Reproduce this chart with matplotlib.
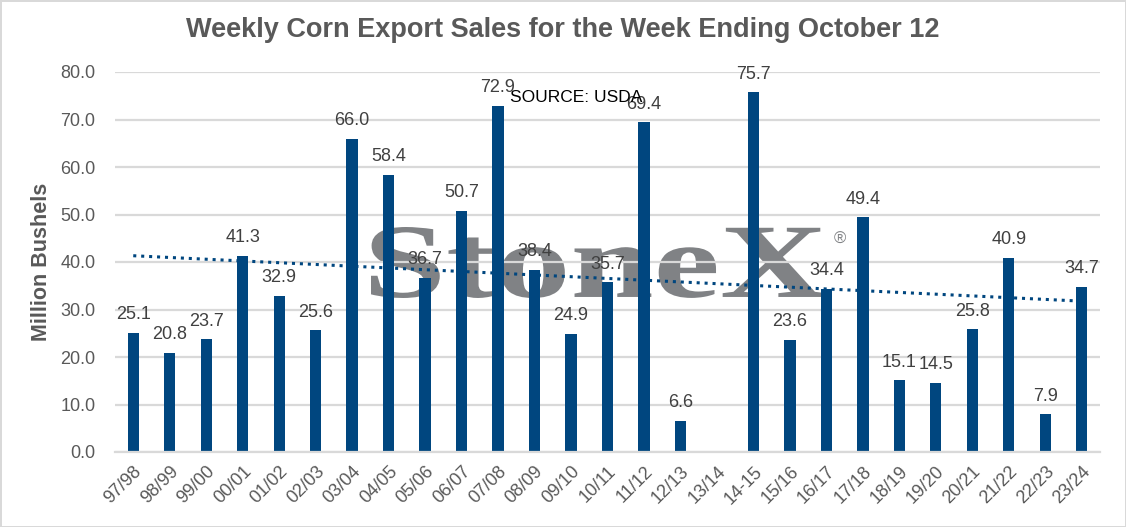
import numpy as np
import matplotlib
matplotlib.use("Agg")
import matplotlib.pyplot as plt
from matplotlib.textpath import TextPath
from matplotlib.patches import PathPatch
from matplotlib.font_manager import FontProperties
from matplotlib.transforms import Affine2D, IdentityTransform

seasons = ["97/98", "98/99", "99/00", "00/01", "01/02", "02/03", "03/04", "04/05",
           "05/06", "06/07", "07/08", "08/09", "09/10", "10/11", "11/12", "12/13",
           "13/14", "14-15", "15/16", "16/17", "17/18", "18/19", "19/20", "20/21",
           "21/22", "22/23", "23/24"]
sales = [25.1, 20.8, 23.7, 41.3, 32.9, 25.6, 66.0, 58.4, 36.7, 50.7, 72.9, 38.4,
         24.9, 35.7, 69.4, 6.6, np.nan, 75.7, 23.6, 34.4, 49.4, 15.1, 14.5, 25.8,
         40.9, 7.9, 34.7]
yticks = [0, 10, 20, 30, 40, 50, 60, 70, 80]

BAR = "#00467F"
GRID = "#D9D9D9"
TXT = "#595959"
MARK = "#808285"

plt.rcParams["font.family"] = ["Liberation Sans", "DejaVu Sans"]

W, H = 1126, 527
fig = plt.figure(figsize=(W / 100, H / 100), dpi=100)
fig.patch.set_edgecolor(GRID)
fig.patch.set_linewidth(2)
ax = fig.add_axes([115 / W, 1 - 452 / H, 985 / W, 380 / H])

x = np.arange(len(seasons))
y = np.array(sales)
ok = ~np.isnan(y)

ax.bar(x[ok], y[ok], width=0.31, color=BAR, zorder=2)
for xi, yi in zip(x[ok], y[ok]):
    ax.annotate(f"{yi:.1f}", (xi, yi), xytext=(0, 7), textcoords="offset points",
                ha="center", va="bottom", fontsize=13, color="#404040", zorder=4)

# linear trend (blank season left out)
k, b = np.polyfit(x[ok], y[ok], 1)
ax.plot(x, k * x + b, linestyle=(0, (1, 1.6)), color=BAR, linewidth=2.2, zorder=3)

ax.set_xlim(-0.5, len(seasons) - 0.5)
ax.set_ylim(0, 80)
ax.set_yticks(yticks)
ax.set_yticklabels([f"{t:.1f}" for t in yticks])
ax.set_xticks(x)
ax.set_xticklabels(seasons, rotation=45, ha="right", rotation_mode="anchor")
ax.tick_params(axis="both", length=0, labelsize=13, labelcolor=TXT)
ax.tick_params(axis="y", pad=14)
ax.tick_params(axis="x", pad=8)
ax.yaxis.grid(True, color=GRID, linewidth=1.6)
ax.set_axisbelow(True)
for s in ["top", "right", "left"]:
    ax.spines[s].set_visible(False)
ax.spines["bottom"].set_color(GRID)
ax.spines["bottom"].set_linewidth(1.6)

ax.set_ylabel("Million Bushels", fontsize=15.5, fontweight="bold", color=TXT, labelpad=6)
fig.suptitle("Weekly Corn Export Sales for the Week Ending October 12",
             x=0.5, y=0.968, fontsize=19.5, fontweight="bold", color=TXT)

# StoneX watermark, stretched wide, sitting behind the gridlines
tp = TextPath((0, 0), "StoneX", size=1,
              prop=FontProperties(family="Liberation Serif", weight="bold"))
bb = tp.get_extents()
sx = (826 - 371) / bb.width
sy = 71 / bb.height
tr = Affine2D().translate(-bb.x0, -bb.y0).scale(sx, sy).translate(371, H - 298)
ax.add_patch(PathPatch(tr.transform_path(tp), facecolor=MARK, edgecolor="none",
                       transform=IdentityTransform(), zorder=0.2, clip_on=False))
ax.text(840 / W, 1 - 239 / H, "\u00ae", transform=fig.transFigure, ha="center",
        va="center", fontsize=12, color=MARK, zorder=0.2)

ax.text(510 / W, 1 - 97 / H, "SOURCE: USDA", transform=fig.transFigure,
        ha="left", va="center", fontsize=12.5, color="black", zorder=5)

fig.savefig("out.png", dpi=100)
